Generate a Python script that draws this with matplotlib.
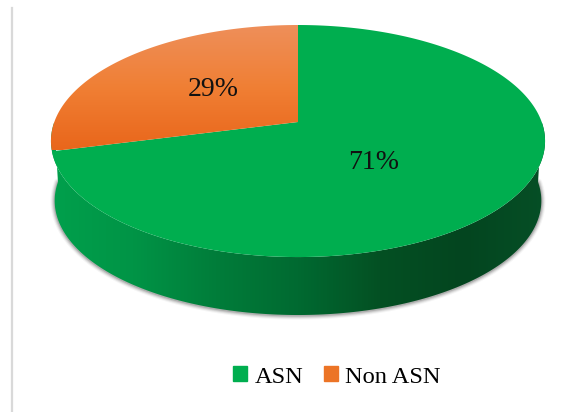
import numpy as np
import matplotlib
matplotlib.use('Agg')
import matplotlib.pyplot as plt
from matplotlib.colors import LinearSegmentedColormap
from matplotlib.patches import Patch, Polygon

# pie data
labels = ['ASN', 'Non ASN']
values = [71, 29]
colors = ['#00AE4F', '#EC7426']
label_pos = [(374, 162), (213, 89)]

W, H = 570, 412
plt.rcParams['font.family'] = ['Liberation Serif', 'DejaVu Serif']


def project(frac, r=1.0, cx=298.0, cy=122.0, a=243.7, b=112.9, k=0.164, drop=0.0, shrink=1.0):
    # frac goes anticlockwise from 12 o'clock, perspective view of the disc
    ang = 2 * np.pi * np.asarray(frac)
    u = -np.sin(ang) * r
    v = -np.cos(ang) * r
    d = 1 - k * v
    return cx + shrink * a * u / d, cy + drop + shrink * b * v / d


def gradient(ax, path, stops, extent, vertical=False):
    cmap = LinearSegmentedColormap.from_list('g', stops)
    g = np.linspace(0, 1, 256)
    g = g[:, None] if vertical else g[None, :]
    im = ax.imshow(g, cmap=cmap, extent=extent, aspect='auto', zorder=2, origin='upper')
    patch = Polygon(path, closed=True, transform=ax.transData, fc='none', ec='none')
    ax.add_patch(patch)
    im.set_clip_path(patch)


fig = plt.figure(figsize=(W / 100, H / 100), dpi=100)
ax = fig.add_axes([0, 0, 1, 1])

# grey line at the left of the plot area
ax.plot([12, 12], [8, 412], color='#D9D9D9', lw=1.6, zorder=1)

# side wall, bottom rim follows the front half of the disc
non_asn = values[1] / sum(values)
rim = np.linspace(0.25, 0.75, 200)
rx, ry = project(rim, drop=60, shrink=0.985)
tx, ty = project(rim)

# soft shadow under the rim
for lw, al in [(6, 0.04), (4.5, 0.07), (3, 0.1), (1.5, 0.14)]:
    ax.plot(rx, ry + 0.5, color='black', alpha=al, lw=lw, zorder=1.5, solid_capstyle='round')

wall = np.r_[np.c_[rx, ry], np.c_[tx, ty][::-1]]
gradient(ax, wall,
         ['#00A04C', '#009446', '#007D3A', '#006A31', '#045023', '#03451F', '#064F26'],
         [50, 546, 330, 100])

# top face
frac = np.linspace(non_asn, 1, 300)
fx, fy = project(frac)
ax.fill(np.r_[298, fx], np.r_[122, fy], color=colors[0], lw=0, zorder=3)

frac = np.linspace(0, non_asn, 150)
fx, fy = project(frac)
gradient(ax, np.c_[np.r_[298, fx], np.r_[122, fy]],
         ['#EE8F5A', '#F07F34', '#E9661B'], [40, 300, 150, 25], vertical=True)
ax.images[-1].set_zorder(4)

for (x, y), v in zip(label_pos, values):
    ax.text(x, y, '%d%%' % v, fontsize=20, ha='center', va='center', color='#111111', zorder=5)

handles = [Patch(color=c, label=l) for c, l in zip(colors, labels)]
ax.legend(handles=handles, loc='center', bbox_to_anchor=(337, 377),
          bbox_transform=ax.transData, ncol=2, frameon=False, fontsize=17.6,
          handlelength=0.57, handleheight=0.57, handletextpad=0.3, columnspacing=0.86)

ax.set_xlim(0, W)
ax.set_ylim(H, 0)
ax.axis('off')
fig.savefig('out.png', dpi=100)
